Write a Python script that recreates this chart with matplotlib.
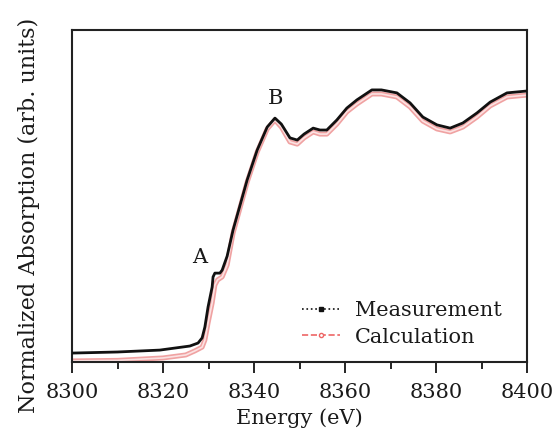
import matplotlib
matplotlib.use("Agg")
import matplotlib.pyplot as plt
from matplotlib.lines import Line2D
from matplotlib.ticker import MultipleLocator

plt.rcParams['font.family'] = ['DejaVu Serif']

# energy (eV) and normalized absorption
energy_meas = [8300, 8310, 8319.3, 8325.9, 8327.7, 8328.6, 8329.2, 8329.9, 8330.8,
               8331.0, 8331.4, 8332.5, 8333.0, 8334.1, 8335.4, 8338.5, 8340.7, 8342.9,
               8344.6, 8346.0, 8347.9, 8349.5, 8351.0, 8353.0, 8354.5, 8356.0, 8358.2,
               8360.4, 8362.6, 8365.9, 8368.0, 8371.4, 8374.3, 8377.1, 8380.2, 8383.1,
               8385.9, 8389.0, 8391.9, 8395.6, 8400]
absorb_meas = [0.033, 0.037, 0.044, 0.059, 0.070, 0.089, 0.129, 0.203, 0.277,
               0.314, 0.328, 0.328, 0.339, 0.391, 0.487, 0.672, 0.782, 0.867,
               0.900, 0.878, 0.827, 0.819, 0.841, 0.863, 0.856, 0.856, 0.893,
               0.937, 0.967, 1.004, 1.004, 0.993, 0.956, 0.904, 0.875, 0.863,
               0.882, 0.919, 0.959, 0.993, 1.000]

energy_calc = [8300, 8310, 8320, 8325, 8327, 8328.6, 8329.2, 8329.9, 8330.8, 8331.4,
               8332.0, 8333.0, 8334.1, 8335.4, 8338.5, 8340.7, 8342.9, 8344.6, 8346.0,
               8347.9, 8349.5, 8351.0, 8353.0, 8354.5, 8356.0, 8358.2, 8360.4, 8362.6,
               8365.9, 8368.0, 8371.4, 8374.3, 8377.1, 8380.2, 8383.1, 8385.9, 8389.0,
               8391.9, 8395.6, 8400]
absorb_calc = [0.004, 0.006, 0.015, 0.026, 0.041, 0.055, 0.081, 0.144, 0.218, 0.284,
               0.303, 0.314, 0.358, 0.476, 0.664, 0.775, 0.860, 0.893, 0.867,
               0.812, 0.804, 0.827, 0.849, 0.841, 0.841, 0.878, 0.923, 0.952,
               0.989, 0.989, 0.978, 0.941, 0.889, 0.860, 0.849, 0.867, 0.904,
               0.945, 0.978, 0.985]

labels = ['Measurement', 'Calculation']
peaks = ['A', 'B']
peak_pos = [(8328.1, 0.384), (8344.8, 0.974)]

fig = plt.figure(figsize=(5.59, 4.30), dpi=100)
ax = fig.add_axes([0.1288, 0.1581, 0.814, 0.7721])

# calculation: pale pink band of open circles
ax.plot(energy_calc, absorb_calc, color='#f0a2a2', lw=3.6, solid_capstyle='round', zorder=2)
ax.plot(energy_calc, absorb_calc, color='#fbe2e2', lw=1.2, zorder=2)
# measurement: dense black points
ax.plot(energy_meas, absorb_meas, color='#111111', lw=2.0, zorder=3)

for name, (x, y) in zip(peaks, peak_pos):
    ax.text(x, y, name, fontsize=15, ha='center', va='center', color='#1a1a1a')

ax.set_xlim(8300, 8400)
ax.set_ylim(0, 1.225)
ax.xaxis.set_major_locator(MultipleLocator(20))
ax.xaxis.set_minor_locator(MultipleLocator(10))
ax.tick_params(axis='x', which='major', direction='out', length=8, width=1.2,
               labelsize=15, pad=7, top=False, labelcolor='#1a1a1a')
ax.tick_params(axis='x', which='minor', direction='out', length=5, width=1.2, top=False)
ax.set_yticks([])
for sp in ax.spines.values():
    sp.set_linewidth(1.5)
    sp.set_color('#222222')

ax.set_xlabel('Energy (eV)', fontsize=15, labelpad=5, color='#1a1a1a')
ax.set_ylabel('Normalized Absorption (arb. units)', fontsize=16, color='#1a1a1a')
ax.yaxis.set_label_coords(-0.07, 0.443)

handles = [
    Line2D([0, 0.5, 1], [0, 0, 0], color='#111111', ls=':', lw=1.2, marker='s',
           markersize=2.5, markevery=[1], markerfacecolor='#111111'),
    Line2D([0, 0.5, 1], [0, 0, 0], color='#ee6666', ls='--', lw=1.2, marker='o',
           markersize=3, markevery=[1], markerfacecolor='white', markeredgecolor='#ee6666'),
]
leg = ax.legend(handles, labels, loc='lower right', frameon=False, fontsize=15,
                handlelength=1.8, handletextpad=0.7, labelspacing=0.35,
                bbox_to_anchor=(0.985, -0.01))
for t in leg.get_texts():
    t.set_color('#1a1a1a')

fig.savefig('out.png', dpi=100)
